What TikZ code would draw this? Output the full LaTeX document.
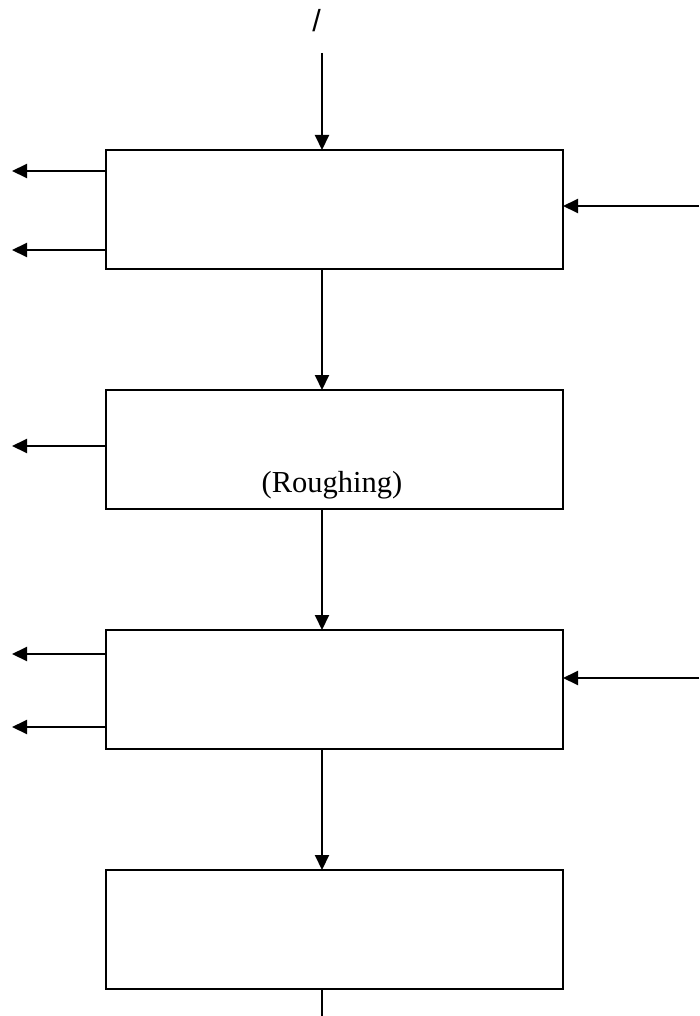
\documentclass[tikz,border=0pt]{standalone}
\usepackage{fontspec}
\setmainfont{Liberation Serif}
\newfontfamily\slashfont{Liberation Sans}
\usepackage{tikz}
\usetikzlibrary{arrows.meta,positioning}

\begin{document}
\begin{tikzpicture}[x=1pt,y=1pt,
  stage/.style={draw,line width=2pt,minimum width=457pt,minimum height=119pt,inner sep=0pt,outer sep=0pt},
  to/.style={-{Triangle[length=15pt,width=14pt]},line width=2pt},
  plain/.style={line width=2pt},
  every node/.style={font=\fontsize{30.5}{36}\selectfont},
  node distance=121pt]

    \useasboundingbox (0,0) rectangle (699,-1016);

    \node[stage](stage1) at (334.5,-209.5) {};
    \node[stage,below=of stage1](stage2) {};
    \node[stage,below=of stage2](stage3) {};
    \node[stage,below=of stage3](stage4) {};

    \node[anchor=base](rough) at (332,-492) {(Roughing)};
    \node[font=\slashfont\fontsize{30.5}{36}\selectfont](feed) at (316.5,-21) {/};

    % main line
    \coordinate (top) at (322,-53);
    \coordinate (bottom) at (322,-1016);
    \draw[to](top) -- (stage1.north -| top);
    \draw[to](stage1.south -| top) -- (stage2.north -| top);
    \draw[to](stage2.south -| top) -- (stage3.north -| top);
    \draw[to](stage3.south -| top) -- (stage4.north -| top);
    \draw[plain](stage4.south -| bottom) -- (bottom);

    % outputs to the left
    \coordinate (out1a) at (12,-171);
    \coordinate (out1b) at (12,-250);
    \coordinate (out2) at (12,-446);
    \coordinate (out3a) at (12,-654);
    \coordinate (out3b) at (12,-727);
    \draw[to](stage1.west |- out1a) -- (out1a);
    \draw[to](stage1.west |- out1b) -- (out1b);
    \draw[to](stage2.west |- out2) -- (out2);
    \draw[to](stage3.west |- out3a) -- (out3a);
    \draw[to](stage3.west |- out3b) -- (out3b);

    % inputs from the right
    \coordinate (in1) at (699,-206);
    \coordinate (in3) at (699,-678);
    \draw[to](in1) -- (in1 -| stage1.east);
    \draw[to](in3) -- (in3 -| stage3.east);
\end{tikzpicture}
\end{document}
